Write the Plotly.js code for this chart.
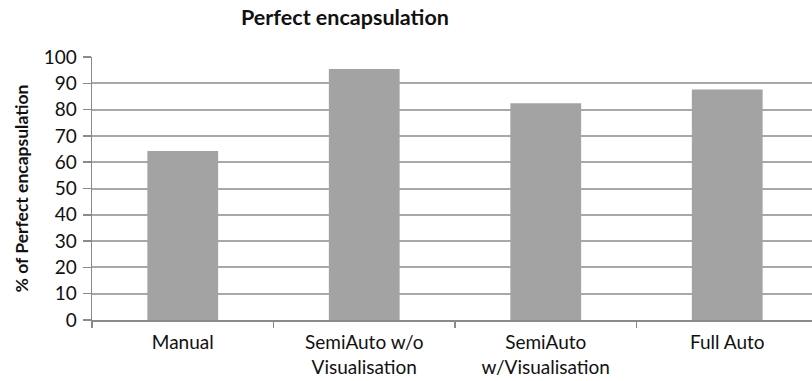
<!DOCTYPE html>
<html>
<head>
<meta charset="utf-8">
<script src="https://cdn.plot.ly/plotly-3.0.1.min.js"></script>
<style>html,body{margin:0;padding:0;background:#fff;}#chart{width:812px;height:381px;}</style>
</head>
<body>
<div id="chart"></div>
<script>
const categories = ["Manual", "SemiAuto w/o<br>Visualisation", "SemiAuto<br>w/Visualisation", "Full Auto"];
const values = [64.3, 95.4, 82.4, 87.6];
const yTickValues = [0, 10, 20, 30, 40, 50, 60, 70, 80, 90, 100];
const chartTitle = "Perfect encapsulation";
const yTitle = "% of Perfect encapsulation";

const FONT = "Lato, 'Open Sans', sans-serif";

const trace = {
  type: "bar",
  x: categories,
  y: values,
  marker: {color: "#a3a3a3", line: {width: 0}},
  hoverinfo: "skip"
};

const layout = {
  width: 812,
  height: 381,
  margin: {l: 92, r: 0, t: 57, b: 61},
  paper_bgcolor: "#ffffff",
  plot_bgcolor: "#ffffff",
  showlegend: false,
  bargap: 0.61,
  title: {
    text: "<b>" + chartTitle + "</b>",
    font: {family: FONT, size: 21.5, color: "#111"},
    x: 345 / 812,
    xanchor: "center",
    xref: "container",
    y: 1 - 17 / 381,
    yanchor: "middle",
    yref: "container"
  },
  xaxis: {
    type: "category",
    range: [-0.5, 3.467],
    showgrid: false,
    showline: true,
    linecolor: "#8a8a8a",
    linewidth: 1.5,
    ticks: "outside",
    ticklen: 6,
    tickcolor: "#8a8a8a",
    tickwidth: 1.5,
    tickson: "boundaries",
    ticklabelstandoff: 5,
    tickfont: {family: FONT, size: 19, color: "#111"},
    fixedrange: true
  },
  yaxis: {
    range: [0, 100],
    tickvals: yTickValues,
    showgrid: true,
    gridcolor: "#a8a8a8",
    gridwidth: 2,
    zeroline: false,
    showline: true,
    linecolor: "#8a8a8a",
    linewidth: 1.5,
    ticks: "outside",
    ticklen: 8,
    tickcolor: "#8a8a8a",
    tickwidth: 1.5,
    ticklabelstandoff: 2,
    tickfont: {family: FONT, size: 19, color: "#111"},
    title: {
      text: "<b>" + yTitle + "</b>",
      font: {family: FONT, size: 17.5, color: "#111"},
      standoff: 10
    },
    automargin: false,
    fixedrange: true
  }
};

Plotly.newPlot("chart", [trace], layout, {displayModeBar: false, staticPlot: true});
</script>
</body>
</html>
